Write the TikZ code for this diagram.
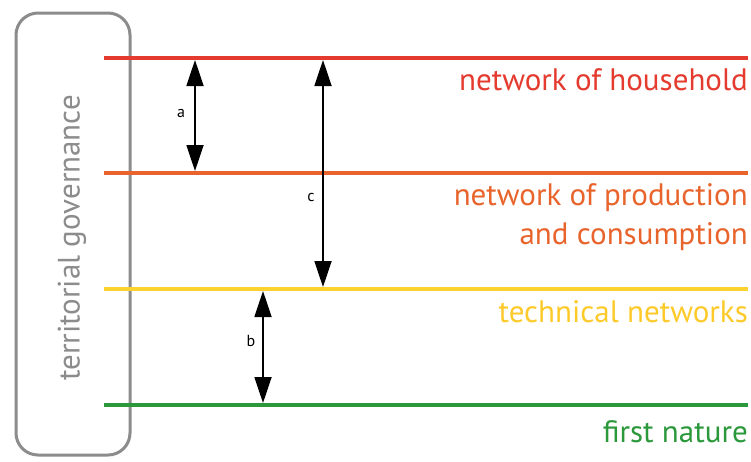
\documentclass[tikz,border=0pt]{standalone}
\usepackage{fontspec}
\setmainfont{PT Sans}
\usetikzlibrary{arrows.meta}
\definecolor{cred}{HTML}{E53A2E}
\definecolor{corange}{HTML}{E8642C}
\definecolor{cyellow}{HTML}{FDD22E}
\definecolor{cgreen}{HTML}{2B983C}
\definecolor{cgray}{HTML}{8C8C8C}
\tikzset{
  level/.style={line width=4pt},
  lab/.style={anchor=east, inner sep=0pt, font=\fontsize{31}{33}\selectfont},
  dist/.style={line width=1.8pt, {Triangle[length=26pt,width=17pt]}-{Triangle[length=26pt,width=17pt]}},
  small/.style={font=\fontsize{16}{18}\selectfont, inner sep=0pt}
}
\begin{document}
\begin{tikzpicture}[x=1pt,y=-1pt]
\useasboundingbox[fill=white] (0,0) rectangle (751,461);
% governance box
\node[draw=cgray, line width=3pt, rounded corners=22pt, minimum width=114pt, minimum height=442pt, inner sep=0pt] (box) at (73,234) {};
\node[rotate=90, text=cgray, font=\fontsize{31}{33}\selectfont, inner sep=0pt] (gov) at (72,238) {territorial governance};
% levels
\coordinate (r0) at (104,58);  \coordinate (r1) at (748,58);
\coordinate (o0) at (104,173); \coordinate (o1) at (748,173);
\coordinate (y0) at (104,289); \coordinate (y1) at (748,289);
\coordinate (g0) at (104,405); \coordinate (g1) at (748,405);
\draw[level, cred] (r0) -- (r1);
\draw[level, corange] (o0) -- (o1);
\draw[level, cyellow] (y0) -- (y1);
\draw[level, cgreen] (g0) -- (g1);
% labels
\node[lab, text=cred] (lh) at (748,80) {network of household};
\node[lab, text=corange] (lp) at (748,198) {network of production};
\node[lab, text=corange] (lc) at (748,237) {and consumption};
\node[lab, text=cyellow!90!orange] (lt) at (748,312) {technical networks};
\node[lab, text=cgreen] (lf) at (748,432) {first nature};
% arrows
\coordinate (aT) at (195,60); \coordinate (aB) at (195,171);
\coordinate (cT) at (323,60); \coordinate (cB) at (323,287);
\coordinate (bT) at (263,291); \coordinate (bB) at (263,403);
\draw[dist] (aT) -- (aB);
\draw[dist] (cT) -- (cB);
\draw[dist] (bT) -- (bB);
\node[small] (la) at (181,113) {a};
\node[small] (lcc) at (311,197) {c};
\node[small] (lb) at (251,341) {b};
\end{tikzpicture}
\end{document}
